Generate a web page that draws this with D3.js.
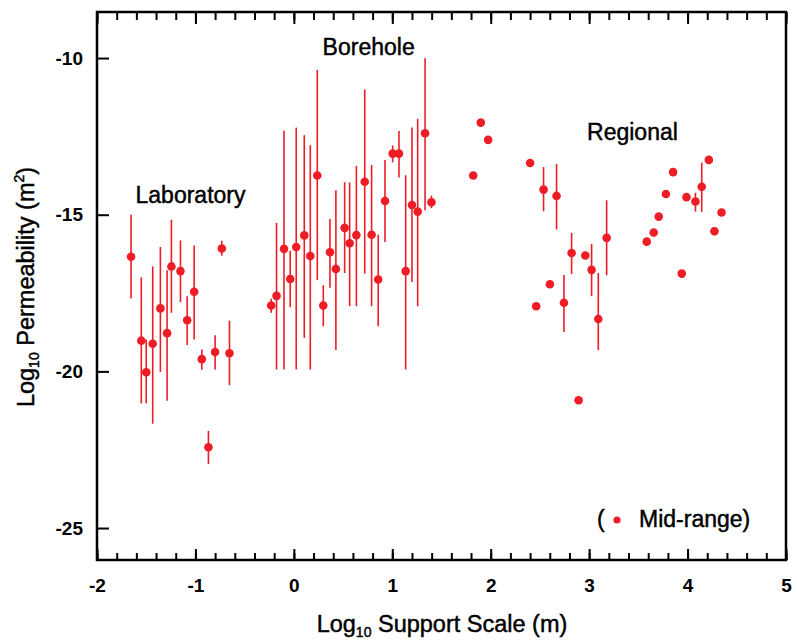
<!DOCTYPE html>
<html>
    <head>
        <title>Permeability vs support scale</title>
        <style type="text/css">
            body{
                padding:0px;
                margin:0px;
                background:#fff;
            }
            svg{
                font-family:"Liberation Sans", Arial, sans-serif;
            }
            .axis path{ display:none; }
            .axis line{ stroke:#000; stroke-width:2px; }
            .axis text{ font-size:19px; font-weight:bold; fill:#000; }
            .lbl{ fill:#000; stroke:#000; stroke-width:0.45px; }
        </style>
        <script src="https://d3js.org/d3.v7.min.js"></script>
        <script type="text/javascript">
            // laboratory: mid-range, lower end, upper end
            var labX  = [-1.654,-1.55,-1.50,-1.434,-1.356,-1.288,-1.244,-1.152,-1.084,-1.013,-0.935,-0.868,-0.80,-0.732,-0.654];
            var labY  = [-16.34,-19.02,-20.03,-19.12,-17.99,-18.78,-16.65,-16.80,-18.37,-17.46,-19.61,-22.42,-19.38,-16.08,-19.42];
            var labLo = [-17.67,-21.02,-21.02,-21.67,-20.02,-20.94,-18.13,-17.79,-19.16,-18.98,-19.95,-22.96,-19.94,-16.31,-20.44];
            var labHi = [-15.00,-17.00,-18.98,-16.65,-16.03,-16.77,-15.16,-15.82,-17.60,-15.98,-19.30,-21.90,-18.85,-15.83,-18.38];

            // borehole
            var boreX  = [-0.23,-0.176,-0.10,-0.037,0.024,0.106,0.167,0.238,0.299,0.367,0.427,0.516,0.567,0.635,0.72,0.79,0.857,0.926,1.004,1.068,1.136,1.20,1.258,1.333,1.398];
            var boreY  = [-17.90,-17.59,-16.09,-17.05,-16.03,-15.66,-16.32,-13.75,-17.90,-16.20,-16.73,-15.42,-15.91,-15.65,-13.95,-15.64,-17.07,-14.56,-13.05,-13.05,-16.80,-14.69,-14.90,-12.40,-14.60];
            var boreLo = [-18.13,-19.94,-19.94,-17.95,-19.94,-18.93,-19.94,-17.09,-18.56,-17.33,-19.32,-16.86,-17.92,-17.92,-16.88,-17.92,-18.56,-15.87,-13.33,-13.81,-19.94,-17.15,-17.92,-14.86,-14.79];
            var boreHi = [-17.68,-15.26,-12.32,-16.15,-12.22,-12.46,-12.78,-10.38,-17.25,-15.14,-14.22,-13.96,-13.97,-13.44,-11.00,-13.41,-15.64,-13.25,-12.79,-12.33,-13.74,-12.22,-11.94,-10.01,-14.39];

            // regional (null = no range drawn)
            var regX  = [1.822,1.899,1.974,2.40,2.462,2.537,2.601,2.669,2.744,2.822,2.893,2.961,3.025,3.093,3.178,3.585,3.656,3.707,3.78,3.853,3.941,3.989,4.08,4.144,4.216,4.273,4.345];
            var regY  = [-13.75,-12.06,-12.61,-13.35,-17.92,-14.20,-17.22,-14.40,-17.81,-16.22,-20.92,-16.30,-16.76,-18.33,-15.74,-15.86,-15.57,-15.06,-14.34,-13.64,-16.88,-14.44,-14.58,-14.11,-13.25,-15.53,-14.93];
            var regLo = [null,null,null,null,null,-14.89,null,-15.47,-18.74,-16.89,null,null,-17.60,-19.32,-16.93,null,null,null,null,null,null,null,-14.90,-14.91,null,null,null];
            var regHi = [null,null,null,null,null,-13.48,null,-13.38,-16.92,-15.58,null,null,-15.93,-16.86,-14.54,null,null,null,null,null,null,null,-14.30,-13.34,null,null,null];

            var xTicks = [-2,-1,0,1,2,3,4,5];
            var yTicks = [-10,-15,-20,-25];
            var groupNames = ["Laboratory","Borehole","Regional"];
            var groupLabelX = [-1.05,0.76,3.44];
            var groupLabelY = [-14.62,-9.9,-12.62];

            var RED = "#ee1d25";

            window.onload = function()
            {
                var W = 797, H = 643;
                var left = 97, right = 786, top = 12, bottom = 560;

                var svg = d3.select("body").append("svg").attr("width", W).attr("height", H);

                var x = d3.scaleLinear().domain([-2, 5]).range([left, right]);
                var y = d3.scaleLinear().domain([-26.02, -8.53]).range([bottom, top]);

                var pts = [];
                function addGroup(xs, ys, lo, hi){
                    for(var i=0;i<xs.length;i++){
                        pts.push({x:xs[i], y:ys[i], lo:lo[i], hi:hi[i]});
                    }
                }
                addGroup(labX, labY, labLo, labHi);
                addGroup(boreX, boreY, boreLo, boreHi);
                addGroup(regX, regY, regLo, regHi);

                var minor = d3.range(-2, 5.001, 0.2).map(function(d){ return Math.round(d*10)/10; });

                // bottom minor + major
                svg.append("g").attr("class","axis").attr("transform","translate(0,"+bottom+")")
                    .call(d3.axisBottom(x).tickValues(minor).tickSize(-7).tickFormat(""));
                svg.append("g").attr("class","axis").attr("transform","translate(0,"+bottom+")")
                    .call(d3.axisBottom(x).tickValues(xTicks).tickSize(-11).tickPadding(19).tickFormat(function(d){ return String(d); }));
                // top
                svg.append("g").attr("class","axis").attr("transform","translate(0,"+top+")")
                    .call(d3.axisTop(x).tickValues(minor).tickSize(-8).tickFormat(""));
                svg.append("g").attr("class","axis").attr("transform","translate(0,"+top+")")
                    .call(d3.axisTop(x).tickValues(xTicks).tickSize(-12).tickFormat(""));
                // left
                svg.append("g").attr("class","axis").attr("transform","translate("+left+",0)")
                    .call(d3.axisLeft(y).tickValues(yTicks).tickSize(-12).tickPadding(14).tickFormat(function(d){ return String(d); }));

                // frame
                svg.append("rect").attr("x",left).attr("y",top).attr("width",right-left).attr("height",bottom-top)
                    .attr("fill","none").attr("stroke","#000").attr("stroke-width",2.5);

                // ranges
                svg.selectAll("line.bar").data(pts.filter(function(d){ return d.lo!==null; })).enter()
                    .append("line").attr("class","bar")
                    .attr("x1",function(d){ return x(d.x); }).attr("x2",function(d){ return x(d.x); })
                    .attr("y1",function(d){ return y(d.lo); }).attr("y2",function(d){ return y(d.hi); })
                    .attr("stroke",RED).attr("stroke-width",1.6);

                // mid-range points
                svg.selectAll("circle.pt").data(pts).enter()
                    .append("circle").attr("class","pt")
                    .attr("cx",function(d){ return x(d.x); }).attr("cy",function(d){ return y(d.y); })
                    .attr("r",4.3).attr("fill",RED);

                // group labels
                svg.selectAll("text.grp").data(groupNames).enter()
                    .append("text").attr("class","grp lbl")
                    .attr("x",function(d,i){ return x(groupLabelX[i]); })
                    .attr("y",function(d,i){ return y(groupLabelY[i]); })
                    .attr("text-anchor","middle").attr("font-size",23)
                    .text(function(d){ return d; });

                // legend
                svg.append("text").attr("class","lbl").attr("x",597).attr("y",527).attr("font-size",23).text("(");
                svg.append("circle").attr("cx",617).attr("cy",520).attr("r",3.6).attr("fill",RED);
                svg.append("text").attr("class","lbl").attr("x",639).attr("y",527).attr("font-size",23).text("Mid-range)");

                // x title
                var xt = svg.append("text").attr("class","lbl").attr("x",442).attr("y",632)
                    .attr("text-anchor","middle").attr("font-size",23.5);
                xt.append("tspan").text("Log");
                xt.append("tspan").attr("font-size",14).attr("dy",5).text("10");
                xt.append("tspan").attr("dy",-5).text(" Support Scale (m)");

                // y title
                var yt = svg.append("text").attr("class","lbl").attr("transform","translate(34,287) rotate(-90)")
                    .attr("text-anchor","middle").attr("font-size",23.5);
                yt.append("tspan").text("Log");
                yt.append("tspan").attr("font-size",14).attr("dy",5).text("10");
                yt.append("tspan").attr("dy",-5).text(" Permeability (m");
                yt.append("tspan").attr("font-size",14).attr("dy",-10).text("2");
                yt.append("tspan").attr("dy",10).text(")");
            }
        </script>
    </head>
    <body>
    </body>
</html>
